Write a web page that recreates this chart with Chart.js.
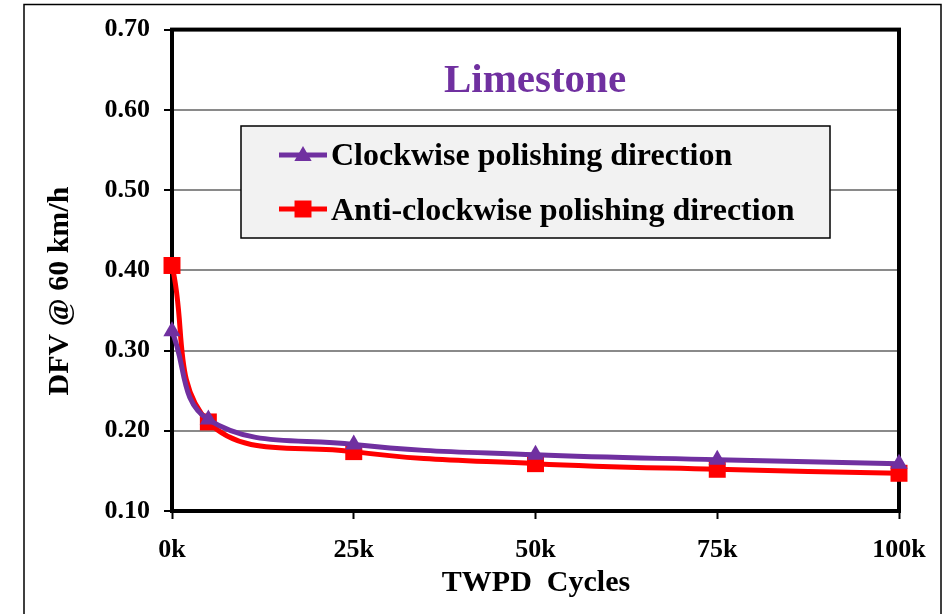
<!DOCTYPE html>
<html>
<head>
<meta charset="utf-8">
<script src="https://cdn.jsdelivr.net/npm/chart.js@4.4.1/dist/chart.umd.min.js"></script>
<style>
  html, body { margin: 0; padding: 0; background: #ffffff; }
  #wrap { position: relative; width: 948px; height: 614px; }
</style>
</head>
<body>
<div id="wrap"><canvas id="chart" width="948" height="614"></canvas></div>
<script>
// Polishing cycles (x) and DFV at 60 km/h for each polishing direction
const cycles = [0, 5000, 25000, 50000, 75000, 100000];
const clockwise = [0.324, 0.214, 0.183, 0.170, 0.164, 0.159];
const antiClockwise = [0.406, 0.211, 0.174, 0.159, 0.152, 0.147];
const xTicks = [0, 25000, 50000, 75000, 100000];
const yTicks = [0.10, 0.20, 0.30, 0.40, 0.50, 0.60, 0.70];

const chartTitle = 'Limestone';
const seriesNames = ['Clockwise polishing direction', 'Anti-clockwise polishing direction'];
const xTitle = 'TWPD  Cycles';
const yTitle = 'DFV @ 60 km/h';

const PURPLE = '#7030A0';
const RED = '#FF0000';
const SERIF = '"Liberation Serif", "Times New Roman", serif';

function toPoints(values) {
  return cycles.map((c, i) => ({ x: c, y: values[i] }));
}

// Frame, plot border, title, in-plot legend and axis titles
const decorations = {
  id: 'decorations',
  beforeDatasetsDraw(chart) {
    const { ctx, chartArea: a } = chart;
    ctx.save();
    ctx.strokeStyle = '#000';
    ctx.lineWidth = 4;
    ctx.strokeRect(a.left, a.top, a.right - a.left, a.bottom - a.top);
    ctx.restore();
  },
  afterDraw(chart) {
    const { ctx } = chart;
    ctx.save();
    // outer frame
    ctx.strokeStyle = '#000';
    ctx.lineWidth = 1.5;
    ctx.strokeRect(24, 4.5, 917, 620);

    // chart title
    ctx.fillStyle = PURPLE;
    ctx.font = 'bold 41px ' + SERIF;
    ctx.textAlign = 'center';
    ctx.textBaseline = 'alphabetic';
    ctx.fillText(chartTitle, 535, 92);

    // legend box
    ctx.fillStyle = '#f2f2f2';
    ctx.fillRect(241, 126, 589, 112);
    ctx.strokeStyle = '#000';
    ctx.lineWidth = 1.5;
    ctx.strokeRect(241, 126, 589, 112);

    const rows = [
      { color: PURPLE, style: 'triangle', cy: 155, base: 165, r: 10 },
      { color: RED, style: 'rect', cy: 209, base: 220, r: 12 }
    ];
    rows.forEach((row, i) => {
      ctx.strokeStyle = row.color;
      ctx.lineWidth = 5;
      ctx.beginPath();
      ctx.moveTo(279, row.cy);
      ctx.lineTo(327, row.cy);
      ctx.stroke();
      ctx.fillStyle = row.color;
      Chart.helpers.drawPoint(ctx, { pointStyle: row.style, radius: row.r, borderWidth: 0, rotation: 0 }, 303, row.style === 'triangle' ? row.cy + 1 : row.cy);
      ctx.fillStyle = '#000';
      ctx.font = 'bold 32px ' + SERIF;
      ctx.textAlign = 'left';
      ctx.textBaseline = 'alphabetic';
      ctx.fillText(seriesNames[i], 331, row.base);
    });

    // axis titles
    ctx.fillStyle = '#000';
    ctx.font = 'bold 30px ' + SERIF;
    ctx.textAlign = 'center';
    ctx.textBaseline = 'middle';
    ctx.fillText(xTitle, 536, 583);
    ctx.translate(60, 291);
    ctx.rotate(-Math.PI / 2);
    ctx.fillText(yTitle, 0, 0);
    ctx.restore();
  }
};

new Chart(document.getElementById('chart'), {
  type: 'line',
  data: {
    datasets: [
      {
        label: seriesNames[0],
        data: toPoints(clockwise),
        borderColor: PURPLE,
        backgroundColor: PURPLE,
        borderWidth: 5,
        pointStyle: 'triangle',
        pointRadius: 10,
        pointBorderWidth: 0,
        tension: 0.4,
        clip: false
      },
      {
        label: seriesNames[1],
        data: toPoints(antiClockwise),
        borderColor: RED,
        backgroundColor: RED,
        borderWidth: 5,
        pointStyle: 'rect',
        pointRadius: 12,
        pointBorderWidth: 0,
        tension: 0.4,
        clip: false
      }
    ]
  },
  options: {
    responsive: false,
    animation: false,
    events: [],
    layout: { padding: { left: 0, right: 49, top: 29, bottom: 0 } },
    plugins: {
      legend: { display: false },
      title: { display: false },
      tooltip: { enabled: false }
    },
    scales: {
      x: {
        type: 'linear',
        min: 0,
        max: 100000,
        afterFit(scale) { scale.height = 103; },
        afterBuildTicks(scale) { scale.ticks = xTicks.map(v => ({ value: v })); },
        grid: { drawOnChartArea: false, drawTicks: true, tickLength: 8, tickColor: '#000', tickWidth: 2 },
        border: { display: false },
        ticks: {
          padding: 16,
          color: '#000',
          font: { family: SERIF, size: 26, weight: 'bold' },
          maxRotation: 0,
          callback: v => (v / 1000) + 'k'
        }
      },
      y: {
        type: 'linear',
        min: 0.1,
        max: 0.7,
        afterFit(scale) { scale.width = 172; },
        afterBuildTicks(scale) { scale.ticks = yTicks.map(v => ({ value: v })); },
        grid: { color: '#8a8a8a', lineWidth: 2, drawTicks: true, tickLength: 8, tickColor: '#000', tickWidth: 2 },
        border: { display: false },
        ticks: {
          padding: 14,
          color: '#000',
          font: { family: SERIF, size: 26, weight: 'bold' },
          callback: v => v.toFixed(2)
        }
      }
    }
  },
  plugins: [decorations]
});
</script>
</body>
</html>
